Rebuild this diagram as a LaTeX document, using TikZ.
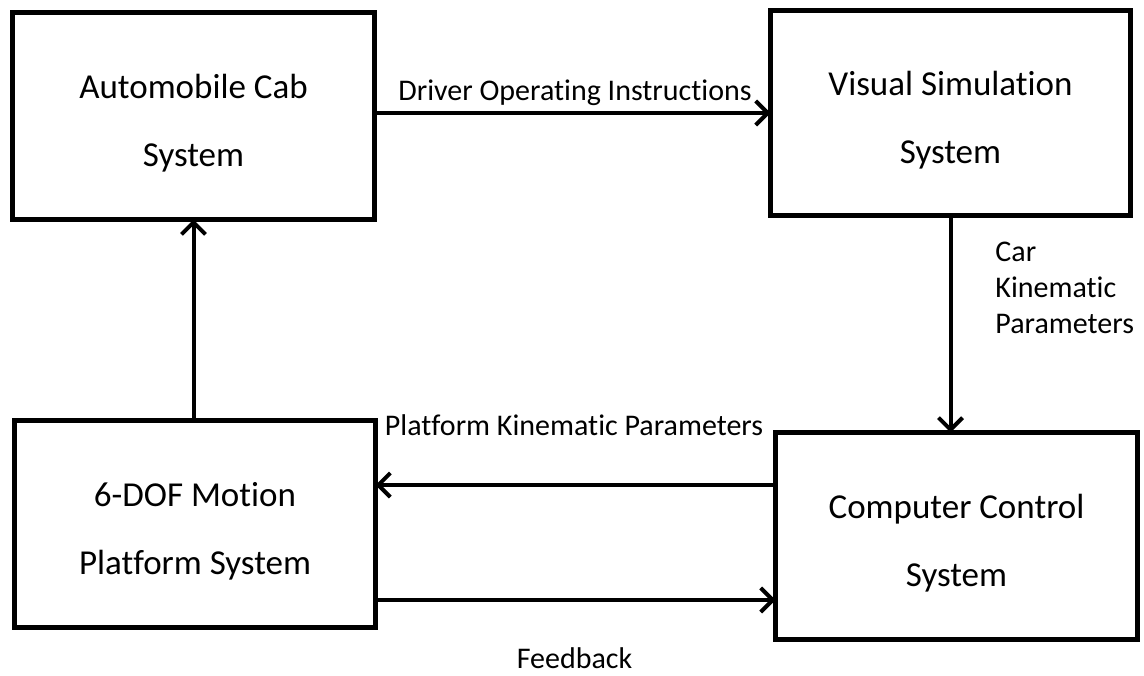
\documentclass[tikz,border=0pt]{standalone}
\usepackage{fontspec}
\setmainfont{Carlito}[Ligatures=CommonOff]
\usetikzlibrary{arrows.meta}

\begin{document}
\begin{tikzpicture}[x=0.5pt,y=-0.5pt,
  sysbox/.style = {rectangle,draw=black,line width=2.5pt,outer sep=0mm},
  systext/.style = {align=center,yshift=-3.5pt,font=\fontsize{17.5}{34}\selectfont},
  flow/.style = {line width=2pt,-{Straight Barb[length=6pt,width=12pt]}},
  lbl/.style = {inner sep=0pt,font=\fontsize{15}{18}\selectfont}]
\useasboundingbox[fill=white] (0,0) rectangle (1144,675);
% the four systems
\node[sysbox,minimum width=181pt,minimum height=103.5pt,
      label={[systext]center:Automobile Cab\\System}] (cab) at (193.5,116) {};
\node[sysbox,minimum width=180pt,minimum height=102.5pt,
      label={[systext]center:Visual Simulation\\System}] (visual) at (950.5,113) {};
\node[sysbox,minimum width=180.5pt,minimum height=103.5pt,
      label={[systext]center:6-DOF Motion\\Platform System}] (platform) at (195,524) {};
\node[sysbox,minimum width=181pt,minimum height=103.5pt,
      label={[systext]center:Computer Control\\System}] (computer) at (956.5,536) {};
% flows between them
\coordinate (doiStart) at ([yshift=1.5pt]cab.east);
\coordinate (pkpStart) at ([yshift=25.5pt]computer.west);
\coordinate (fbStart)  at ([yshift=-38pt]platform.east);
\draw[flow] (doiStart) -- (doiStart -| visual.west);
\draw[flow] (visual.south) -- (visual.south |- computer.north);
\draw[flow] (pkpStart) -- (pkpStart -| platform.east);
\draw[flow] (fbStart) -- (fbStart -| computer.west);
\draw[flow] (cab.south |- platform.north) -- (cab.south);
% labels
\node[lbl,anchor=base] (doi) at (575,100) {Driver Operating Instructions};
\node[lbl,anchor=north west,align=left] (ckp) at (995,242) {Car\\Kinematic\\Parameters};
\node[lbl,anchor=base] (pkp) at (574,435) {Platform Kinematic Parameters};
\node[lbl,anchor=base] (fbk) at (574.5,668) {Feedback};
\end{tikzpicture}
\end{document}
